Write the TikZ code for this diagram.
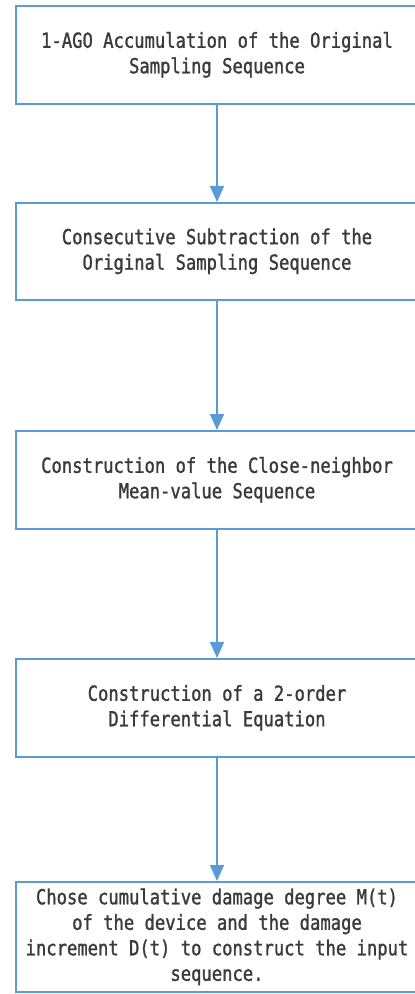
\documentclass[tikz,border=0pt]{standalone}
\usepackage{fontspec}
\newfontfamily\boxfont[FakeStretch=0.83,FakeBold=1.2]{DejaVu Sans Mono}
\usetikzlibrary{arrows.meta}
\definecolor{edgeblue}{HTML}{5B9BD5}
\definecolor{txtgray}{HTML}{3A3A3A}
\begin{document}
\begin{tikzpicture}[x=1pt,y=1pt,
  stepbox/.style={draw=edgeblue, line width=1.6pt, fill=white, rectangle,
    minimum width=402pt, anchor=north, inner sep=0pt,
    align=center, text=txtgray, font=\boxfont\fontsize{20.7}{25.5}\selectfont},
  flow/.style={draw=edgeblue, line width=1.6pt, -{Triangle[width=14pt,length=16pt]}}]
\useasboundingbox (0,0) rectangle (415,-994);
\node[stepbox, minimum height=98pt] (b1) at (217,-5) {1-AGO Accumulation of the Original\\Sampling Sequence};
\node[stepbox, minimum height=97pt] (b2) at (217,-202) {Consecutive Subtraction of the\\Original Sampling Sequence};
\node[stepbox, minimum height=98pt] (b3) at (217,-430) {Construction of the Close-neighbor\\Mean-value Sequence};
\node[stepbox, minimum height=98pt] (b4) at (217,-658) {Construction of a 2-order\\Differential Equation};
\node[stepbox, minimum height=110pt] (b5) at (217,-881) {Chose cumulative damage degree M(t)\\of the device and the damage\\increment D(t) to construct the input\\sequence.};
\draw[flow] (b1.south) -- (b2.north);
\draw[flow] (b2.south) -- (b3.north);
\draw[flow] (b3.south) -- (b4.north);
\draw[flow] (b4.south) -- (b5.north);
\end{tikzpicture}
\end{document}
